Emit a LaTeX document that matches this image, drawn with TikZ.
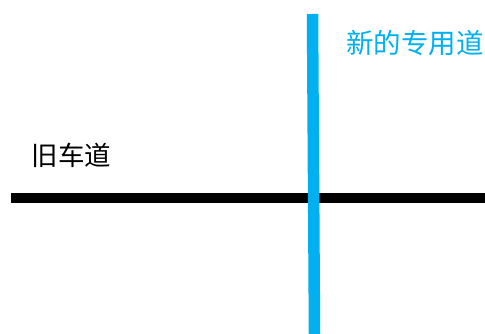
\documentclass[tikz,border=0pt]{standalone}
\usepackage{fontspec}
\newfontfamily\cjk{Noto Sans CJK SC}
\definecolor{laneblue}{HTML}{00B0F0}
\begin{document}
\begin{tikzpicture}[x=1pt,y=-1pt,
  oldroad/.style={line width=10.5pt,black},
  newlane/.style={line width=11.5pt,laneblue},
  lbl/.style={font=\cjk\fontsize{26.5}{26.5}\selectfont,inner sep=0pt}]
\useasboundingbox (0,0) rectangle (485,334);
\coordinate (oa) at (11,198);
\coordinate (ob) at (485,198);
\coordinate (na) at (312.5,14);
\coordinate (nb) at (314.5,334);
\draw[oldroad] (oa) -- (ob);
\draw[newlane] (na) -- (nb);
\node[lbl] (oldlbl) at (71.5,155) {旧车道};
\node[lbl,text=laneblue,font=\cjk\fontsize{27.5}{27.5}\selectfont] (newlbl) at (415,43) {新的专用道};
\end{tikzpicture}
\end{document}
